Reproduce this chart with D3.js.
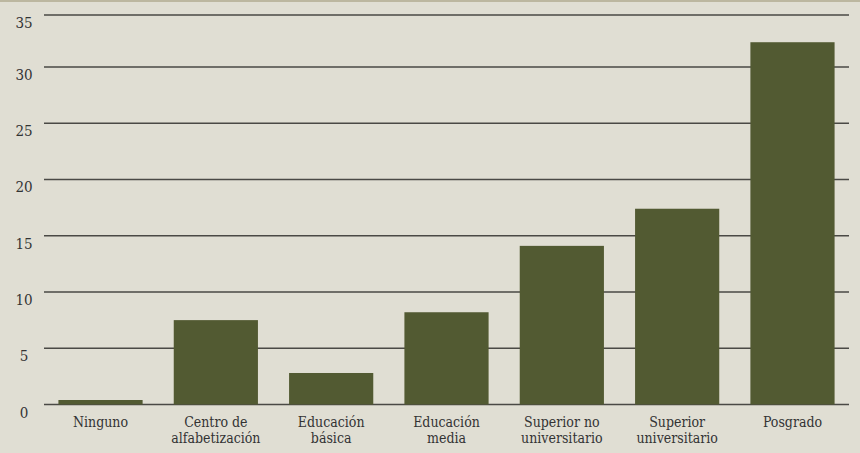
<!DOCTYPE html>
<html>
<head>
<meta charset="utf-8">
<script src="https://cdn.jsdelivr.net/npm/d3@7"></script>
<style>
  body { margin: 0; background: #e0ded3; }
  svg { display: block; }
  text { font-family: "DejaVu Serif Condensed", "DejaVu Serif", serif; font-stretch: condensed; fill: #333; }
</style>
</head>
<body>
<div id="chart-container"></div>
<script>
// data
const categories = [
  ["Ninguno"],
  ["Centro de", "alfabetización"],
  ["Educación", "básica"],
  ["Educación", "media"],
  ["Superior no", "universitario"],
  ["Superior", "universitario"],
  ["Posgrado"]
];
const values = [0.4, 7.5, 2.8, 8.2, 14.1, 17.4, 32.2];
const yTicks = [0, 5, 10, 15, 20, 25, 30, 35];

const W = 860, H = 453;
const plotLeft = 44, plotRight = 849, plotTop = 15, plotBottom = 404.5;

const svg = d3.select("#chart-container")
  .append("svg")
    .attr("width", W)
    .attr("height", H);

svg.append("rect")
  .attr("width", W).attr("height", H)
  .attr("fill", "#e0ded3");

// thin strip on top
svg.append("rect")
  .attr("width", W).attr("height", 2)
  .attr("fill", "#bcb7a0");

const x = d3.scaleBand()
  .domain(d3.range(categories.length))
  .range([plotLeft, plotRight])
  .paddingInner(0.27)
  .paddingOuter(0.125);

// top line sits a bit lower than a regular step would put it
const y = d3.scaleLinear()
  .domain([0, 34.62])
  .range([plotBottom, plotTop])
  .clamp(true);

// gridlines
svg.append("g")
  .selectAll("line")
  .data(yTicks)
  .join("line")
    .attr("x1", plotLeft)
    .attr("x2", plotRight)
    .attr("y1", d => y(d))
    .attr("y2", d => y(d))
    .attr("stroke", "#4a4945")
    .attr("stroke-width", 1.6);

// y labels
svg.append("g")
  .selectAll("text")
  .data(yTicks)
  .join("text")
    .attr("x", 24)
    .attr("y", d => y(d) + 13)
    .attr("text-anchor", "middle")
    .attr("font-size", 15)
    .text(d => d);

// bars
svg.append("g")
  .selectAll("rect")
  .data(values)
  .join("rect")
    .attr("x", (d, i) => x(i))
    .attr("width", x.bandwidth())
    .attr("y", d => y(d))
    .attr("height", d => y(0) - y(d))
    .attr("fill", "#525a32");

// x labels
const lab = svg.append("g")
  .selectAll("text")
  .data(categories)
  .join("text")
    .attr("x", (d, i) => x(i) + x.bandwidth() / 2)
    .attr("y", plotBottom + 22)
    .attr("text-anchor", "middle")
    .attr("font-size", 14);

lab.selectAll("tspan")
  .data(d => d)
  .join("tspan")
    .attr("x", function() { return this.parentNode.getAttribute("x"); })
    .attr("dy", (d, i) => i === 0 ? 0 : 16)
    .text(d => d);
</script>
</body>
</html>
